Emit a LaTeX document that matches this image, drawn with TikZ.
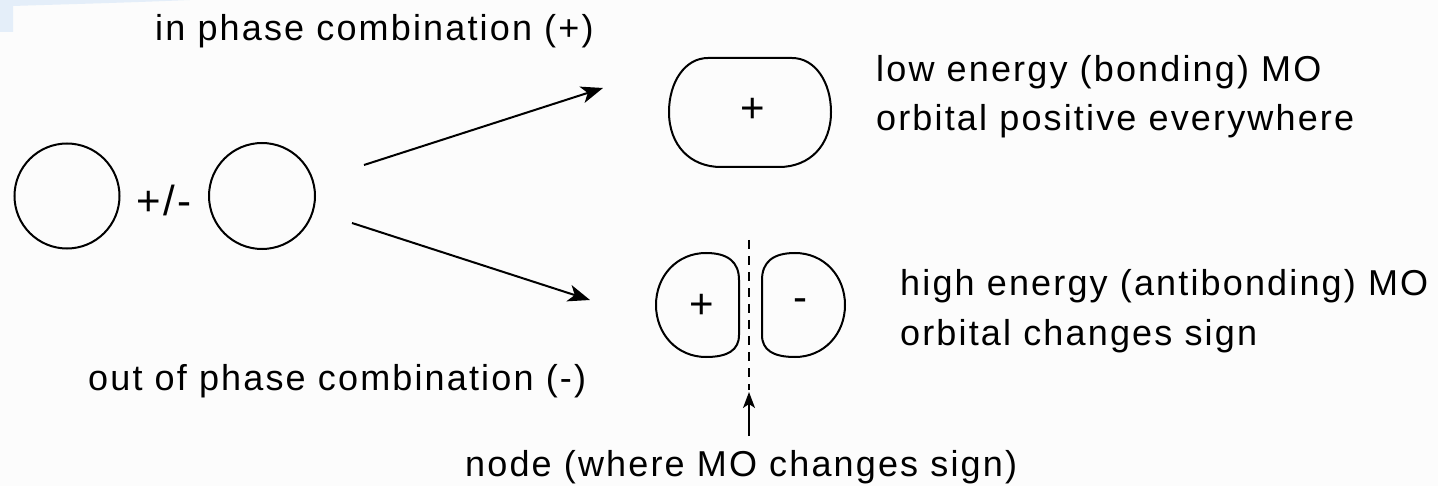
\documentclass[tikz,border=0pt]{standalone}
\usepackage{fontspec}
\setmainfont{Liberation Sans}[LetterSpace=6]
\usetikzlibrary{arrows.meta}
\definecolor{bgc}{HTML}{FCFCFC}
\definecolor{tint}{HTML}{E4EEF9}
\tikzset{
  lbl/.style={anchor=base west, inner sep=0pt, font=\fontsize{36}{46}\selectfont},
  sign/.style={inner sep=0pt, font=\fontsize{42}{48}\selectfont},
  orb/.style={draw=black, line width=2pt},
  arr/.style={line width=2pt, -{Stealth[length=22pt,width=17pt,inset=6pt]}},
  uparr/.style={line width=1.6pt, -{Stealth[length=16pt,width=12pt,inset=4pt]}},
  nodeline/.style={line width=1.6pt, dash pattern=on 9pt off 7pt}
}
\begin{document}
\begin{tikzpicture}[x=1pt,y=-1pt]
\useasboundingbox (0,0) rectangle (1438,486);
\fill[bgc] (0,0) rectangle (1438,486);
% faint tint in the top-left corner
\fill[tint] (0,0) -- (190,0) .. controls (120,3) and (40,5) .. (13,6) -- (13,32) -- (0,32) -- cycle;

% atomic orbitals
\node[orb, circle, minimum size=105pt, inner sep=0pt] (ao1) at (67,196) {};
\node[orb, circle, minimum size=106pt, inner sep=0pt] (ao2) at (262,196) {};
\node[sign] (pm) at (164,200) {+/-};

% bonding MO
\draw[orb] (708,58) -- (792,58) .. controls (815,58) and (831,82) .. (831,112)
  .. controls (831,145) and (810,167) .. (779,167) -- (721,167)
  .. controls (690,167) and (669,145) .. (669,112)
  .. controls (669,82) and (685,58) .. (708,58) -- cycle;
\node[sign] (bplus) at (753,110) {+};

% antibonding MO lobes
\draw[orb] (739,280) -- (739,335) .. controls (739,350) and (728,357) .. (706,357)
  .. controls (677,357) and (656,334) .. (656,305)
  .. controls (656,276) and (677,253) .. (706,253)
  .. controls (728,253) and (739,262) .. (739,280) -- cycle;
\draw[orb] (762,280) -- (762,335) .. controls (762,350) and (773,357) .. (795,357)
  .. controls (824,357) and (845,334) .. (845,305)
  .. controls (845,276) and (824,253) .. (795,253)
  .. controls (773,253) and (762,262) .. (762,280) -- cycle;
\node[sign] (aplus) at (702,306) {+};
\node[sign] (aminus) at (800,305) {-};

% nodal plane
\coordinate (ntop) at (749,240);
\coordinate (nbot) at (749,390);
\draw[nodeline] (ntop) -- (nbot);
\coordinate (upfrom) at (749,436);
\coordinate (upto) at (749,392);
\draw[uparr] (upfrom) -- (upto);

% combination arrows
\coordinate (a1s) at (364,165);
\coordinate (a1e) at (603,88);
\coordinate (a2s) at (352,223);
\coordinate (a2e) at (590,300);
\draw[arr] (a1s) -- (a1e);
\draw[arr] (a2s) -- (a2e);

% labels
\node[lbl] (inph) at (155,41) {in phase combination (+)};
\node[lbl] (outph) at (88,390) {out of phase combination (-)};
\node[lbl] (nodelbl) at (465,476) {node (where MO changes sign)};
\node[lbl] (blbl1) at (876,82) {low energy (bonding) MO};
\node[lbl] (blbl2) at (876,131) {orbital positive everywhere};
\node[lbl] (ablbl1) at (900,296) {high energy (antibonding) MO};
\node[lbl] (ablbl2) at (900,345) {orbital changes sign};
\end{tikzpicture}
\end{document}
